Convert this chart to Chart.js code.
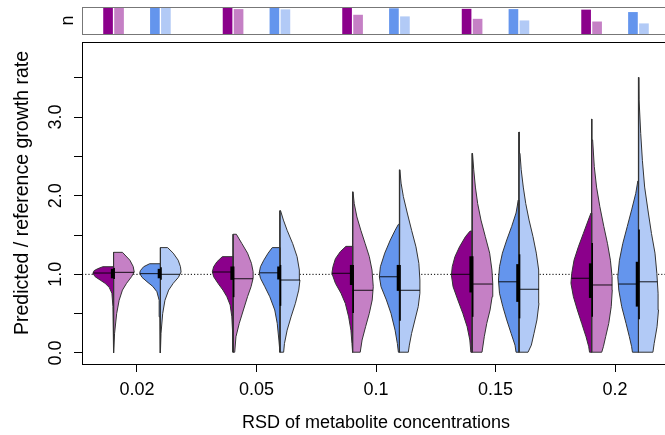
<!DOCTYPE html>
<html lang="en">
<head>
<meta charset="UTF-8">
<title>Predicted / reference growth rate vs RSD</title>
<script src="https://cdn.jsdelivr.net/npm/chart.js"></script>
<style>
  html, body { margin: 0; padding: 0; background: #fff; overflow: hidden; }
  .wrap { position: relative; width: 665px; height: 435px; overflow: hidden; }
  .wrap canvas { position: absolute; left: 0; top: 0; }
</style>
</head>
<body>
<div class="wrap">
  <canvas id="mainChart" width="675" height="435"></canvas>
  <canvas id="nChart" width="675" height="40"></canvas>
</div>

<script>
  const fontFamily = '"Liberation Sans", Arial, Helvetica, sans-serif';

  // categories and axis ticks
  const rsdLabels = ['0.02', '0.05', '0.1', '0.15', '0.2'];
  const yTickMarks = [0, 0.5, 1, 1.5, 2, 2.5, 3, 3.5];
  const yTickValues = [0, 1, 2, 3];
  const yTickLabels = ['0.0', '1.0', '2.0', '3.0'];
  const refLevel = 1;

  // number of samples per half (top panel)
  const nPurple = [100, 100, 100, 92, 89];
  const nPurpleLight = [100, 91, 70, 55, 45];
  const nBlue = [100, 100, 94, 91, 80];
  const nBlueLight = [100, 90, 64, 49, 38];

  // medians
  const medPurple = [1.017, 1.03, 1.013, 1.0, 0.95];
  const medPurpleLight = [1.025, 0.945, 0.797, 0.877, 0.865];
  const medBlue = [1.01, 1.02, 0.97, 0.906, 0.877];
  const medBlueLight = [1.0, 0.928, 0.797, 0.81, 0.906];

  // interquartile ranges [q1, q3]
  const iqrPurple = [[0.95, 1.07], [0.93, 1.10], [0.865, 1.12], [0.77, 1.23], [0.70, 1.14]];
  const iqrPurpleLight = [[0.94, 1.08], [0.71, 1.10], [0.51, 1.12], [0.46, 1.23], [0.46, 1.40]];
  const iqrBlue = [[0.95, 1.07], [0.935, 1.10], [0.79, 1.12], [0.65, 1.13], [0.59, 1.16]];
  const iqrBlueLight = [[0.93, 1.09], [0.60, 1.12], [0.41, 1.12], [0.44, 1.255], [0.43, 1.57]];

  // density profiles, [value, relative density], bottom to top
  const densPurple = [
    [[0.0, 0.0], [0.59, 0.03], [0.76, 0.08], [0.835, 0.21], [0.886, 0.41], [0.928, 0.65], [0.97, 0.89], [1.013, 1.0], [1.047, 0.94], [1.07, 0.78], [1.097, 0.52]],
    [[0.01, 0.0], [0.25, 0.02], [0.46, 0.06], [0.61, 0.14], [0.716, 0.30], [0.80, 0.49], [0.886, 0.73], [0.97, 0.94], [1.034, 1.0], [1.097, 0.94], [1.16, 0.78], [1.225, 0.52]],
    [[0.01, 0.02], [0.12, 0.03], [0.29, 0.08], [0.46, 0.19], [0.63, 0.35], [0.76, 0.56], [0.886, 0.83], [1.013, 1.0], [1.097, 0.95], [1.20, 0.83], [1.29, 0.59], [1.356, 0.32]],
    [[0.01, 0.06], [0.165, 0.11], [0.334, 0.24], [0.505, 0.45], [0.674, 0.69], [0.843, 0.92], [0.99, 1.0], [1.097, 0.96], [1.225, 0.83], [1.35, 0.61], [1.48, 0.32], [1.55, 0.10]],
    [[0.01, 0.10], [0.08, 0.14], [0.207, 0.27], [0.377, 0.48], [0.547, 0.69], [0.716, 0.88], [0.886, 1.0], [1.013, 0.96], [1.18, 0.85], [1.35, 0.64], [1.52, 0.40], [1.69, 0.16], [1.78, 0.03]]
  ];
  const densPurpleLight = [
    [[0.0, 0.0], [0.25, 0.05], [0.50, 0.15], [0.67, 0.27], [0.80, 0.43], [0.886, 0.63], [0.97, 0.87], [1.03, 1.0], [1.10, 0.95], [1.18, 0.79], [1.28, 0.43]],
    [[0.01, 0.08], [0.207, 0.14], [0.377, 0.30], [0.547, 0.50], [0.716, 0.70], [0.843, 0.87], [0.95, 0.97], [1.034, 0.97], [1.14, 0.89], [1.27, 0.70], [1.39, 0.43], [1.51, 0.16]],
    [[0.01, 0.37], [0.165, 0.46], [0.334, 0.63], [0.505, 0.81], [0.674, 0.95], [0.843, 1.0], [1.055, 0.94], [1.225, 0.81], [1.39, 0.61], [1.56, 0.40], [1.73, 0.21], [1.90, 0.08], [2.05, 0.02]],
    [[0.01, 0.48], [0.207, 0.59], [0.377, 0.71], [0.547, 0.87], [0.716, 0.97], [0.886, 1.0], [1.055, 0.96], [1.27, 0.85], [1.48, 0.64], [1.69, 0.43], [1.90, 0.27], [2.11, 0.16], [2.33, 0.08], [2.54, 0.02]],
    [[0.01, 0.49], [0.08, 0.57], [0.207, 0.68], [0.377, 0.83], [0.59, 0.95], [0.80, 1.0], [0.97, 0.99], [1.18, 0.91], [1.39, 0.77], [1.61, 0.59], [1.86, 0.40], [2.11, 0.24], [2.37, 0.13], [2.71, 0.05], [2.975, 0.02]]
  ];
  const densBlue = [
    [[0.0, 0.0], [0.46, 0.02], [0.67, 0.06], [0.78, 0.17], [0.847, 0.37], [0.907, 0.65], [0.962, 0.89], [1.013, 1.0], [1.047, 0.97], [1.097, 0.81], [1.135, 0.52]],
    [[0.01, 0.02], [0.165, 0.05], [0.377, 0.13], [0.547, 0.25], [0.716, 0.49], [0.843, 0.73], [0.95, 0.94], [1.02, 1.0], [1.097, 0.94], [1.18, 0.78], [1.27, 0.57], [1.34, 0.37]],
    [[0.01, 0.05], [0.12, 0.10], [0.29, 0.21], [0.505, 0.41], [0.674, 0.63], [0.843, 0.89], [0.97, 0.97], [1.097, 0.92], [1.27, 0.71], [1.437, 0.44], [1.56, 0.21], [1.636, 0.05]],
    [[0.01, 0.14], [0.10, 0.19], [0.25, 0.38], [0.42, 0.59], [0.59, 0.78], [0.76, 0.94], [0.928, 0.99], [1.097, 0.94], [1.27, 0.80], [1.437, 0.59], [1.61, 0.35], [1.78, 0.14], [1.945, 0.03]],
    [[0.01, 0.29], [0.08, 0.33], [0.207, 0.44], [0.377, 0.60], [0.59, 0.81], [0.80, 0.95], [0.97, 1.0], [1.18, 0.92], [1.39, 0.76], [1.61, 0.54], [1.82, 0.33], [2.03, 0.13], [2.187, 0.03]]
  ];
  const densBlueLight = [
    [[0.0, 0.0], [0.25, 0.03], [0.50, 0.11], [0.67, 0.22], [0.80, 0.40], [0.886, 0.62], [0.962, 0.87], [1.03, 1.0], [1.097, 0.97], [1.18, 0.86], [1.27, 0.62], [1.34, 0.35]],
    [[0.01, 0.18], [0.12, 0.22], [0.29, 0.35], [0.46, 0.54], [0.632, 0.75], [0.80, 0.91], [0.928, 0.97], [1.055, 0.94], [1.225, 0.83], [1.39, 0.62], [1.56, 0.35], [1.69, 0.17], [1.81, 0.03]],
    [[0.01, 0.43], [0.10, 0.48], [0.25, 0.59], [0.42, 0.75], [0.59, 0.91], [0.76, 0.99], [0.928, 0.99], [1.14, 0.94], [1.35, 0.80], [1.56, 0.59], [1.78, 0.38], [1.99, 0.19], [2.16, 0.08], [2.33, 0.02]],
    [[0.01, 0.44], [0.10, 0.60], [0.25, 0.73], [0.42, 0.87], [0.632, 0.97], [0.843, 0.97], [1.055, 0.94], [1.27, 0.84], [1.48, 0.68], [1.69, 0.49], [1.90, 0.33], [2.11, 0.21], [2.33, 0.11], [2.54, 0.05], [2.81, 0.02]],
    [[0.01, 0.70], [0.12, 0.76], [0.334, 0.90], [0.547, 0.97], [0.76, 0.95], [1.013, 0.89], [1.27, 0.80], [1.52, 0.63], [1.78, 0.48], [2.11, 0.30], [2.45, 0.19], [2.79, 0.11], [3.22, 0.03], [3.505, 0.02]]
  ];

  const colPurple = '#8B008B';
  const colPurpleLight = '#C580C5';
  const colBlue = '#6495ED';
  const colBlueLight = '#B2CAF6';

  // x layout: groups sit at 1..5, each with two split violins
  const X_MIN = 0.54, X_MAX = 5.46;
  const SPLIT = 0.196;                 // offset of each split violin from the tick
  const WMAX = 0.173;                  // widest half-violin, in x units
  const PX = (X_MAX - X_MIN) / 588;    // roughly one pixel in x units

  // width of a half at value v
  function edgeAt(profile, v) {
    for (let k = 1; k < profile.length; k++) {
      const [v0, d0] = profile[k - 1];
      const [v1, d1] = profile[k];
      if (v >= v0 && v <= v1) return d0 + (d1 - d0) * (v - v0) / (v1 - v0);
    }
    return 0;
  }

  const halves = [
    { pos: -SPLIT, side: -1, color: colPurple, dens: densPurple, med: medPurple, iqr: iqrPurple },
    { pos: -SPLIT, side: 1, color: colPurpleLight, dens: densPurpleLight, med: medPurpleLight, iqr: iqrPurpleLight },
    { pos: SPLIT, side: -1, color: colBlue, dens: densBlue, med: medBlue, iqr: iqrBlue },
    { pos: SPLIT, side: 1, color: colBlueLight, dens: densBlueLight, med: medBlueLight, iqr: iqrBlueLight }
  ];

  // reference line at 1.0, behind everything
  const datasets = [{
    data: [{ x: X_MIN, y: refLevel }, { x: X_MAX, y: refLevel }],
    borderColor: '#000', borderWidth: 1, borderDash: [1.2, 2], order: 10
  }];

  rsdLabels.forEach((_, i) => {
    halves.forEach(h => {
      const c = i + 1 + h.pos;
      const prof = h.dens[i];

      // closed half-violin outline: centre -> profile edge -> back down the centre
      const outline = [{ x: c, y: prof[0][0] }];
      prof.forEach(([v, d]) => outline.push({ x: c + h.side * d * WMAX, y: v }));
      outline.push({ x: c, y: prof[prof.length - 1][0] }, { x: c, y: prof[0][0] });
      datasets.push({
        data: outline, fill: 'shape', backgroundColor: h.color,
        borderColor: '#333', borderWidth: 1, order: 5
      });

      // median
      const m = h.med[i];
      datasets.push({
        data: [{ x: c, y: m }, { x: c + h.side * edgeAt(prof, m) * WMAX, y: m }],
        borderColor: 'rgba(0,0,0,0.75)', borderWidth: 1.2, order: 2
      });

      // interquartile bar next to the centre line
      const bx = c + h.side * (h.side < 0 ? 1.2 : 0.6) * PX;
      datasets.push({
        data: [{ x: bx, y: h.iqr[i][0] }, { x: bx, y: h.iqr[i][1] }],
        borderColor: '#000', borderWidth: h.side < 0 ? 3 : 1.6, borderCapStyle: 'butt', order: 1
      });
    });
  });

  // plot frame, rotated y tick labels and y title
  const framePlugin = {
    id: 'frame',
    afterDraw(chart) {
      const { ctx, chartArea: a, scales: { y } } = chart;
      ctx.save();
      ctx.strokeStyle = '#000';
      ctx.lineWidth = 1;
      ctx.strokeRect(Math.round(a.left) + 0.5, Math.round(a.top) + 0.5,
        Math.round(a.right - a.left), Math.round(a.bottom - a.top));
      ctx.fillStyle = '#000';
      ctx.font = '18px ' + fontFamily;
      ctx.textAlign = 'center';
      ctx.textBaseline = 'middle';
      yTickValues.forEach((v, k) => {
        ctx.save();
        ctx.translate(56, y.getPixelForValue(v));
        ctx.rotate(-Math.PI / 2);
        ctx.fillText(yTickLabels[k], 0, 0);
        ctx.restore();
      });
      ctx.font = '19.5px ' + fontFamily;
      ctx.translate(23, 193);
      ctx.rotate(-Math.PI / 2);
      ctx.fillText('Predicted / reference growth rate', 0, 0);
      ctx.restore();
    }
  };

  new Chart(document.getElementById('mainChart'), {
    type: 'line',
    data: { datasets },
    options: {
      responsive: false,
      animation: false,
      events: [],
      layout: { padding: { top: 42, right: 5, left: 0, bottom: 0 } },
      elements: {
        point: { radius: 0 },
        line: { tension: 0, fill: false, borderJoinStyle: 'round' }
      },
      plugins: { legend: { display: false }, tooltip: { enabled: false } },
      scales: {
        x: {
          type: 'linear', min: X_MIN, max: X_MAX,
          afterBuildTicks: s => { s.ticks = rsdLabels.map((_, i) => ({ value: i + 1 })); },
          afterFit: s => { s.height = 71; },
          border: { display: false },
          grid: { drawOnChartArea: false, tickLength: 8, color: '#000', lineWidth: 1 },
          ticks: {
            callback: v => rsdLabels[v - 1],
            font: { family: fontFamily, size: 18 }, color: '#000',
            padding: 7, maxRotation: 0, autoSkip: false
          },
          title: {
            display: true, text: 'RSD of metabolite concentrations',
            font: { family: fontFamily, size: 18 }, color: '#000',
            padding: { top: 0, bottom: 1 }
          }
        },
        y: {
          type: 'linear', min: -0.14, max: 3.955,
          afterBuildTicks: s => { s.ticks = yTickMarks.map(v => ({ value: v })); },
          afterFit: s => { s.width = 82; },
          border: { display: false },
          grid: { drawOnChartArea: false, tickLength: 8, color: '#000', lineWidth: 1 },
          ticks: { display: false }
        }
      }
    },
    plugins: [framePlugin]
  });

  // top panel: sample counts per half
  const BAR_OFF = 5.5 * PX;
  const barSets = [
    { pos: -SPLIT - BAR_OFF, color: colPurple, n: nPurple },
    { pos: -SPLIT + BAR_OFF, color: colPurpleLight, n: nPurpleLight },
    { pos: SPLIT - BAR_OFF, color: colBlue, n: nBlue },
    { pos: SPLIT + BAR_OFF, color: colBlueLight, n: nBlueLight }
  ];

  const panelPlugin = {
    id: 'panel',
    afterDraw(chart) {
      const { ctx, chartArea: a } = chart;
      ctx.save();
      ctx.strokeStyle = '#777';
      ctx.lineWidth = 1;
      ctx.strokeRect(Math.round(a.left) + 0.5, Math.round(a.top) + 0.5,
        Math.round(a.right - a.left), Math.round(a.bottom - a.top));
      ctx.fillStyle = '#000';
      ctx.font = '18px ' + fontFamily;
      ctx.textAlign = 'center';
      ctx.textBaseline = 'middle';
      ctx.translate(68, (a.top + a.bottom) / 2);
      ctx.rotate(-Math.PI / 2);
      ctx.fillText('n', 0, 0);
      ctx.restore();
    }
  };

  new Chart(document.getElementById('nChart'), {
    type: 'bar',
    data: {
      datasets: barSets.map(b => ({
        data: rsdLabels.map((_, i) => ({ x: i + 1 + b.pos, y: b.n[i] })),
        backgroundColor: b.color, borderWidth: 0, barThickness: 9, grouped: false
      }))
    },
    options: {
      responsive: false,
      animation: false,
      events: [],
      layout: { padding: { top: 7, right: 5, left: 82, bottom: 6 } },
      plugins: { legend: { display: false }, tooltip: { enabled: false } },
      scales: {
        x: { type: 'linear', min: X_MIN, max: X_MAX, offset: false, display: false },
        y: { type: 'linear', min: 0, max: 100, display: false }
      }
    },
    plugins: [panelPlugin]
  });
</script>
</body>
</html>
